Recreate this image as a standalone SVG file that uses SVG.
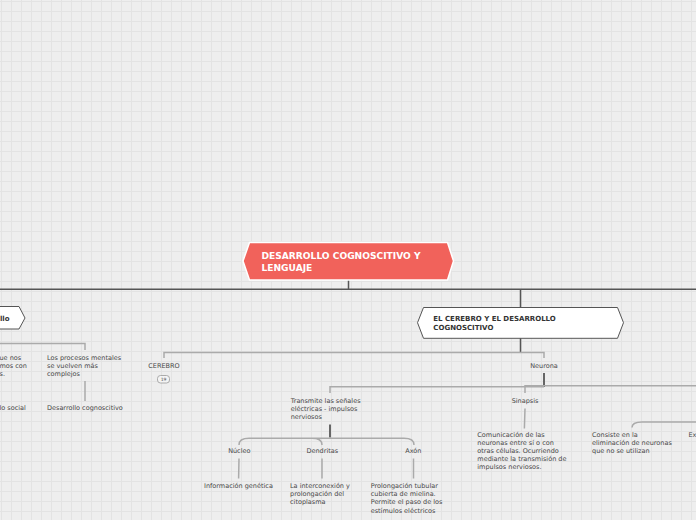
<svg xmlns="http://www.w3.org/2000/svg" width="696" height="520" viewBox="0 0 696 520">
<defs>
<pattern id="grid" width="10" height="10" patternUnits="userSpaceOnUse" x="1" y="1">
<path d="M0.5 0V10M0 0.5H10" stroke="#e3e3e3" stroke-width="1" fill="none"/>
</pattern>
<style>
.t{font-family:"DejaVu Sans",Verdana,sans-serif;font-size:6.5px;fill:#484848}
.c{text-anchor:middle}
.b{font-family:"DejaVu Sans",Verdana,sans-serif;font-weight:bold;font-size:7px;fill:#333}
.main{font-family:"DejaVu Sans",Verdana,sans-serif;font-weight:bold;font-size:9.1px;fill:#fff}
.dk{stroke:#555;stroke-width:1.5;fill:none}
.dk2{stroke:#666;stroke-width:2;fill:none}
.lt{stroke:#aaa;stroke-width:1.5;fill:none}
.sub{fill:#fff;stroke:#555;stroke-width:1}
</style>
</defs>
<rect width="696" height="520" fill="#eeeeee"/>
<rect width="696" height="520" fill="url(#grid)"/>

<g id="connectors">
<path class="dk" d="M348.5 280V289M0 289.2H696M520.5 289V307M520.5 338V352.5"/>
<path class="lt" d="M164 358V352.5H544V358"/>
<path class="lt" d="M0 343.5H85V350"/>
<path class="lt" d="M85 381V401"/>
<path class="dk2" d="M544 373V387"/>
<path class="lt" d="M330 393V386.7H544"/>
<path class="lt" d="M525 393V385.7H696"/>
<path class="dk2" d="M330 424.5V437.5"/>
<path class="lt" d="M239 445Q239 438.3 249 438.3H404Q414 438.3 414 445M312 438.3Q322 438.3 322 445"/>
<path class="lt" d="M239 458.5L238.6 478.5M322 458.5V478.5M413.5 458.5V478.5"/>
<path class="lt" d="M525 408.5L524.4 428.5"/>
<path class="lt" d="M632 427.5Q632 422 642 422H696"/>
</g>

<g id="node-main">
<polygon points="243,261 249.5,242.5 447.5,242.5 453.5,261 447.5,280 249.5,280" fill="#f1625b" stroke="#fff" stroke-width="1.5"/>
<text class="main" x="261.5" y="259.3">DESARROLLO COGNOSCITIVO Y</text>
<text class="main" x="261.5" y="270.5">LENGUAJE</text>
</g>

<g id="node-cerebro-desarrollo">
<polygon class="sub" points="417.5,322.7 423.5,307.5 617.5,307.5 623.5,322.7 617.5,338.3 423.5,338.3"/>
<text class="b" x="433.3" y="321">EL CEREBRO Y EL DESARROLLO</text>
<text class="b" x="433.3" y="329.5">COGNOSCITIVO</text>
</g>

<g id="node-left">
<polygon class="sub" points="-10,306.5 19,306.5 25,318 19,329 -10,329"/>
<text class="b" x="9.5" y="320.5" text-anchor="end">llo</text>
</g>

<g id="node-left-a">
<text class="t" x="-0.5" y="360">ue nos</text>
<text class="t" x="-0.5" y="368.2">mos con</text>
<text class="t" x="-0.5" y="376.4">s.</text>
</g>
<g id="node-left-a2"><text class="t" x="-0.5" y="410">lo social</text></g>

<g id="node-procesos">
<text class="t" x="47" y="360">Los procesos mentales</text>
<text class="t" x="47" y="368.2">se vuelven más</text>
<text class="t" x="47" y="376.4">complejos</text>
</g>
<g id="node-desarrollo-cog"><text class="t" x="47" y="410">Desarrollo cognoscitivo</text></g>

<g id="node-cerebro">
<text class="t c" x="164" y="368">CEREBRO</text>
<rect x="157.5" y="375.5" width="12" height="7.5" rx="3" fill="#f4f4f4" stroke="#999" stroke-width="0.8"/>
<text class="t c" x="163.5" y="381.2" style="font-size:4.5px">19</text>
</g>

<g id="node-neurona"><text class="t c" x="544" y="368">Neurona</text></g>

<g id="node-transmite">
<text class="t" x="290.7" y="403">Transmite las señales</text>
<text class="t" x="290.7" y="411.2">eléctricas - impulsos</text>
<text class="t" x="290.7" y="419.4">nerviosos</text>
</g>

<g id="node-sinapsis"><text class="t c" x="525" y="403">Sinapsis</text></g>

<g id="node-nucleo"><text class="t c" x="239.3" y="453.3">Núcleo</text></g>
<g id="node-dendritas"><text class="t c" x="322.3" y="453.3">Dendritas</text></g>
<g id="node-axon"><text class="t c" x="413.3" y="453.3">Axón</text></g>

<g id="node-info"><text class="t" x="204" y="488">Información genética</text></g>
<g id="node-inter">
<text class="t" x="290" y="488">La interconexión y</text>
<text class="t" x="290" y="496.2">prolongación del</text>
<text class="t" x="290" y="504.4">citoplasma</text>
</g>
<g id="node-prolong">
<text class="t" x="370.7" y="488">Prolongación tubular</text>
<text class="t" x="370.7" y="496.2">cubierta de mielina.</text>
<text class="t" x="370.7" y="504.4">Permite el paso de los</text>
<text class="t" x="370.7" y="512.6">estímulos eléctricos</text>
</g>

<g id="node-comunicacion">
<text class="t" x="477.3" y="436.5">Comunicación de las</text>
<text class="t" x="477.3" y="444.7">neuronas entre sí o con</text>
<text class="t" x="477.3" y="452.9">otras células. Ocurriendo</text>
<text class="t" x="477.3" y="461.1">mediante la transmisión de</text>
<text class="t" x="477.3" y="469.3">impulsos nerviosos.</text>
</g>

<g id="node-consiste">
<text class="t" x="592" y="436.5">Consiste en la</text>
<text class="t" x="592" y="444.7">eliminación de neuronas</text>
<text class="t" x="592" y="452.9">que no se utilizan</text>
</g>
<g id="node-ex"><text class="t" x="688.5" y="436.5">Ex</text></g>
</svg>
